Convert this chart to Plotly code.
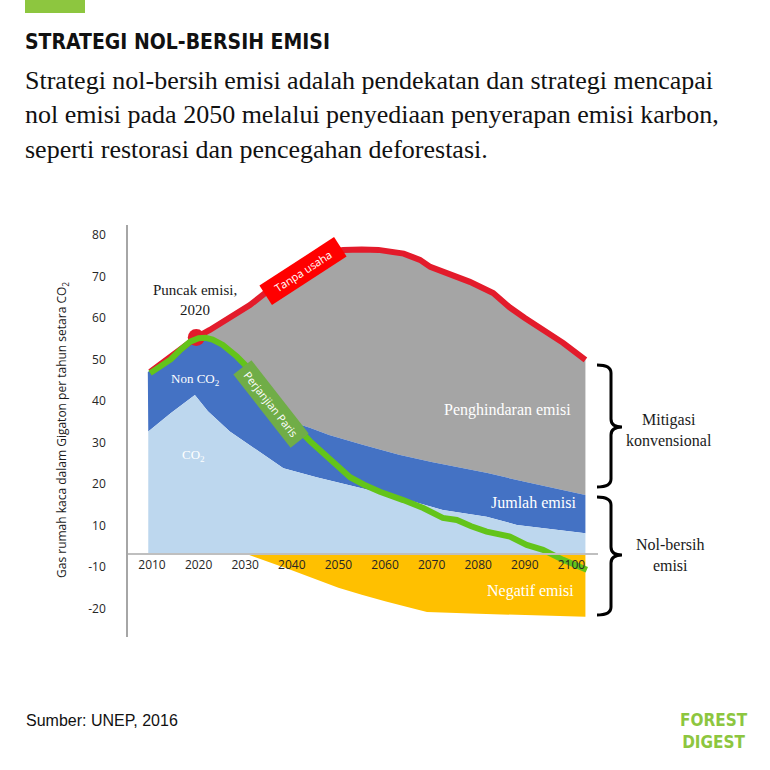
import plotly.graph_objects as go

# ---------------- data (chart units; the zero baseline sits at BASE_Y) ----------------
BASE_Y = 3.1

red_years = [2009.6, 2012, 2015.3, 2018, 2019.5, 2022.4, 2025, 2028, 2031, 2034.6, 2038, 2042,
             2046, 2051, 2055, 2058.6, 2064, 2067.5, 2069.7, 2073, 2078.2, 2083.2, 2086.8,
             2090, 2093.9, 2098.2, 2103]
red_vals = [47, 49, 51.5, 54, 55.3, 57.1, 59, 61, 63.1, 66.3, 69.3, 72.5,
            75.3, 76.4, 76.5, 76.4, 75.5, 74, 72.3, 71, 68.7, 66, 62.5,
            60, 57.1, 54, 49.9]

green_years = [2009.6, 2012, 2014, 2016, 2018.2, 2020, 2021.5, 2023, 2025.2, 2028.2, 2031,
               2034.2, 2037, 2039.6, 2043.9, 2048.2, 2052.5, 2055.5, 2058.9, 2063.9, 2068.2,
               2072.4, 2075.4, 2078.5, 2081.8, 2086.8, 2090.4, 2093.9, 2098.2, 2103.3]
green_vals = [46.7, 48.3, 50, 52.2, 54.3, 55.1, 55.2, 54.8, 53.5, 50.7, 47.5,
              43.9, 39.5, 35.4, 30.3, 25.8, 21.6, 19.8, 18.1, 16.1, 14.2,
              11.8, 11.3, 9.8, 8.5, 7.3, 5.3, 4.1, 1.7, -0.7]

nonco2_years = [2009.1, 2012, 2016, 2018.2, 2020, 2021.5, 2023, 2025.2, 2028.2, 2031, 2034.2,
                2037, 2040, 2044, 2048, 2055, 2063, 2070, 2082, 2090, 2103]
nonco2_vals = [47, 48.4, 52.2, 54.3, 55.1, 55.2, 54.8, 53.5, 50.7, 47.5, 43.9,
               39.5, 35, 33.5, 31.8, 29.5, 27, 25.3, 22.6, 20.5, 17.3]

co2_years = [2009.2, 2014, 2019.2, 2022, 2026.7, 2032, 2038.2, 2045.3, 2052.5, 2062.5,
             2072.4, 2081.8, 2088.3, 2103]
co2_vals = [32.6, 37, 41.4, 37.5, 32.6, 28.5, 23.8, 21.6, 19.6, 16.9,
            13.7, 12.1, 10.1, 8.1]

neg_years = [2030.3, 2035, 2040, 2045, 2050, 2055, 2060, 2065, 2069, 2080, 2090, 2103]
neg_vals = [3.1, 1.3, -0.8, -2.9, -5.0, -6.7, -8.3, -9.7, -10.9, -11.3, -11.6, -12]

peak_year = [2019.5]
peak_val = [55.3]

x_tick_labels = ["2010", "2020", "2030", "2040", "2050", "2060", "2070", "2080", "2090", "2100"]
y_tick_labels = ["80", "70", "60", "50", "40", "30", "20", "10", "-10", "-20"]

# ---------------- layout constants ----------------
W, H = 770, 770
L, R, T, B = 128, 172, 225, 133
X_RANGE = [2004.85, 2105.7]
Y_RANGE = [-16.9, 82.4]
PW, PH = W - L - R, H - T - B

GRAY = "#a5a5a5"
DBLUE = "#4472c4"
LBLUE = "#bdd7ee"
YELLOW = "#ffc000"
RED = "#e31b2b"
GREEN = "#63c41a"
SERIF = "Liberation Serif"
SANS = "Open Sans"
COND = "DejaVu Sans Condensed"


def pp(xp, yp):
    return (xp - L) / PW, (T + PH - yp) / PH


fig = go.Figure()

# gray area (avoided emissions) between no-action line and non-CO2 top
fig.add_trace(go.Scatter(
    x=red_years + nonco2_years[::-1], y=red_vals + nonco2_vals[::-1],
    fill="toself", fillcolor=GRAY, line=dict(width=0), mode="lines", hoverinfo="skip"))
# dark blue (non CO2)
fig.add_trace(go.Scatter(
    x=nonco2_years + co2_years[::-1], y=nonco2_vals + co2_vals[::-1],
    fill="toself", fillcolor=DBLUE, line=dict(width=0), mode="lines", hoverinfo="skip"))
# light blue (CO2)
fig.add_trace(go.Scatter(
    x=co2_years + co2_years[::-1], y=co2_vals + [BASE_Y] * len(co2_years),
    fill="toself", fillcolor=LBLUE, line=dict(width=0), mode="lines", hoverinfo="skip"))
# yellow (negative emissions)
fig.add_trace(go.Scatter(
    x=neg_years + neg_years[::-1], y=neg_vals + [BASE_Y] * len(neg_years),
    fill="toself", fillcolor=YELLOW, line=dict(width=0), mode="lines", hoverinfo="skip"))
# red line
fig.add_trace(go.Scatter(x=red_years, y=red_vals, mode="lines",
                         line=dict(color=RED, width=6), hoverinfo="skip"))
# peak marker
fig.add_trace(go.Scatter(x=peak_year, y=peak_val, mode="markers",
                         marker=dict(color=RED, size=17), hoverinfo="skip"))
# green line
fig.add_trace(go.Scatter(x=green_years, y=green_vals, mode="lines",
                         line=dict(color=GREEN, width=6), hoverinfo="skip"))

x_pos = (BASE_Y - Y_RANGE[0]) / (Y_RANGE[1] - Y_RANGE[0])
x_tickvals = [int(s) for s in x_tick_labels]
y_tickvals = [int(s) if int(s) > 0 else int(s) + 10 for s in y_tick_labels]

fig.update_layout(
    width=W, height=H, margin=dict(l=L, r=R, t=T, b=B),
    paper_bgcolor="white", plot_bgcolor="white", showlegend=False,
    xaxis=dict(range=X_RANGE, anchor="free", position=x_pos, showline=True,
               linecolor="#bfbfbf", linewidth=1.5, showgrid=False, zeroline=False,
               tickvals=x_tickvals, ticktext=x_tick_labels, ticks="",
               tickfont=dict(family=SANS, size=12, color="#262626")),
    yaxis=dict(range=Y_RANGE, anchor="x", showline=True, linecolor="#a6a6a6",
               linewidth=1.5, showgrid=False, zeroline=False,
               tickvals=y_tickvals, ticktext=y_tick_labels, ticks="outside",
               ticklen=18, tickcolor="rgba(0,0,0,0)",
               tickfont=dict(family=SANS, size=12, color="#262626")),
)

ann = []


def add_text(xp, yp, text, size, color="#1a1a1a", family=SERIF, xanchor="center",
             yanchor="middle", angle=0, **kw):
    x, y = pp(xp, yp)
    ann.append(dict(x=x, y=y, xref="paper", yref="paper", text=text, showarrow=False,
                    xanchor=xanchor, yanchor=yanchor, textangle=angle,
                    font=dict(family=family, size=size, color=color), **kw))


# header
add_text(23, 42, "<b>STRATEGI NOL-BERSIH EMISI</b>", 21, color="#111111",
         family=COND, xanchor="left")
sub = ["Strategi nol-bersih emisi adalah pendekatan dan strategi mencapai",
       "nol emisi pada 2050 melalui penyediaan penyerapan emisi karbon,",
       "seperti restorasi dan pencegahan deforestasi."]
for i, line in enumerate(sub):
    add_text(23, 81 + 34 * i, line, 26, color="#111111", xanchor="left")

# chart labels
add_text(195, 300, "Puncak emisi,<br>2020", 15)
add_text(195, 379, "Non CO<sub>2</sub>", 13, color="white")
add_text(193, 455, "CO<sub>2</sub>", 13, color="white")
add_text(507, 410, "Penghindaran emisi", 16, color="white")
add_text(533, 503, "Jumlah emisi", 16, color="white")
add_text(530, 591, "Negatif emisi", 16, color="white")
add_text(303, 271, "Tanpa usaha", 11, color="white", family=SANS, angle=-33,
         bgcolor="#ff0000", width=86, height=20)
add_text(271, 404, "Perjanjian Paris", 11, color="white", family=SANS, angle=52,
         bgcolor="#70ad47", width=90, height=20)
add_text(62, 430, "Gas rumah kaca dalam Gigaton per tahun setara CO<sub>2</sub>", 12,
         color="#1a1a1a", family=SANS, angle=-90)

# side labels
add_text(669, 430, "Mitigasi<br>konvensional", 16)
add_text(670, 555, "Nol-bersih<br>emisi", 16)

# footer
add_text(24, 720, "Sumber: UNEP, 2016", 16, color="#111111", family="Liberation Sans",
         xanchor="left")
add_text(714, 731, "<b>FOREST<br>DIGEST</b>", 17, color="#8dc63f", family=COND)

fig.update_layout(annotations=ann)

# shapes: top green bar and curly brackets
shapes = []
x0, y0 = pp(25, 0)
x1, y1 = pp(85, 13)
shapes.append(dict(type="rect", xref="paper", yref="paper", x0=x0, y0=y0, x1=x1, y1=y1,
                   fillcolor="#8dc63f", line=dict(width=0)))


def brace(top, mid, bot, xl=597, xm=611, xt=622, r=8):
    def P(a, b):
        u, v = pp(a, b)
        return f"{u:.5f},{v:.5f}"
    path = (f"M{P(xl, top)} Q{P(xm, top)} {P(xm, top + r)} L{P(xm, mid - r)} "
            f"Q{P(xm, mid)} {P(xt, mid)} Q{P(xm, mid)} {P(xm, mid + r)} "
            f"L{P(xm, bot - r)} Q{P(xm, bot)} {P(xl, bot)}")
    return dict(type="path", xref="paper", yref="paper", path=path,
                line=dict(color="black", width=3))


shapes.append(brace(365, 427, 487))
shapes.append(brace(497, 555, 615))
fig.update_layout(shapes=shapes)

fig.write_html("out.html", config={"displayModeBar": False},
               post_script="document.body.style.margin='0';")
